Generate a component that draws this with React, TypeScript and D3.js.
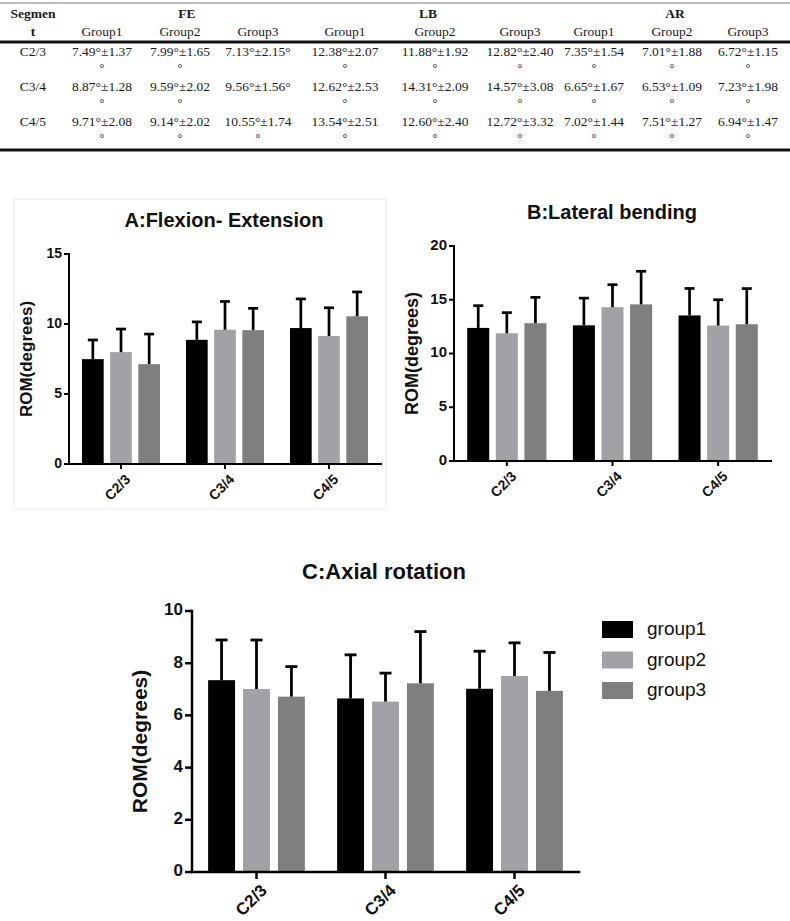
import * as d3 from "d3";
import React from "react";

const segments = ["C2/3", "C3/4", "C4/5"];
const groups = ["group1", "group2", "group3"];
const tableGroups = ["Group1", "Group2", "Group3"];
const motions = ["FE", "LB", "AR"];

// mean and SD per segment (rows) and group (columns)
const feMean = [
  [7.49, 7.99, 7.13],
  [8.87, 9.59, 9.56],
  [9.71, 9.14, 10.55],
];
const feSD = [
  [1.37, 1.65, 2.15],
  [1.28, 2.02, 1.56],
  [2.08, 2.02, 1.74],
];
const lbMean = [
  [12.38, 11.88, 12.82],
  [12.62, 14.31, 14.57],
  [13.54, 12.6, 12.72],
];
const lbSD = [
  [2.07, 1.92, 2.4],
  [2.53, 2.09, 3.08],
  [2.51, 2.4, 3.32],
];
const arMean = [
  [7.35, 7.01, 6.72],
  [6.65, 6.53, 7.23],
  [7.02, 7.51, 6.94],
];
const arSD = [
  [1.54, 1.88, 1.15],
  [1.67, 1.09, 1.98],
  [1.44, 1.27, 1.47],
];

const feTicks = [0, 5, 10, 15];
const lbTicks = [0, 5, 10, 15, 20];
const arTicks = [0, 2, 4, 6, 8, 10];

const groupColors = ["#000000", "#a2a2a6", "#7f7f7f"];

const SANS = "'Liberation Sans', Arial, sans-serif";
const SERIF = "'Liberation Serif', 'Times New Roman', serif";

const fmt = (m: number, s: number) => `${m.toFixed(2)}°±${s.toFixed(2)}°`;

// table layout
const segX = 33;
const motionX = [187, 428, 675];
const colX = [102, 180, 258, 345, 435, 520, 594, 672, 748];
const colChars = [10, 10, 11, 10, 10, 10, 10, 10, 10];
const rowY = [53, 88, 123];

const Table: React.FC = () => {
  const tables = [
    [feMean, feSD],
    [lbMean, lbSD],
    [arMean, arSD],
  ];
  const cells: React.ReactElement[] = [];
  segments.forEach((seg, r) => {
    cells.push(
      <text key={`s${r}`} x={segX} y={rowY[r]} textAnchor="middle">
        {seg}
      </text>
    );
    tables.forEach(([means, sds], t) => {
      groups.forEach((_, g) => {
        const c = t * 3 + g;
        const s = fmt(means[r][g], sds[r][g]);
        const wrap = s.length > colChars[c];
        cells.push(
          <text key={`v${r}-${c}`} x={colX[c]} y={rowY[r]} textAnchor="middle">
            {wrap ? s.slice(0, -1) : s}
          </text>
        );
        // the trailing degree sign wraps onto a second line in narrow cells
        if (wrap)
          cells.push(
            <text key={`d${r}-${c}`} x={colX[c]} y={rowY[r] + 16} textAnchor="middle" fontSize={12}>
              °
            </text>
          );
      });
    });
  });
  return (
    <g fontFamily={SERIF} fontSize={13.5} fill="#1a1a1a" dominantBaseline="middle">
      <line x1={0} x2={790} y1={3} y2={3} stroke="#777" strokeWidth={1} />
      <line x1={0} x2={790} y1={42} y2={42} stroke="#111" strokeWidth={3} />
      <line x1={0} x2={790} y1={150} y2={150} stroke="#111" strokeWidth={3} />
      <text x={segX} y={15} textAnchor="middle" fontWeight="bold">Segmen</text>
      <text x={segX} y={33} textAnchor="middle" fontWeight="bold">t</text>
      {motions.map((m, i) => (
        <text key={m} x={motionX[i]} y={15} textAnchor="middle" fontWeight="bold">
          {m}
        </text>
      ))}
      {colX.map((x, i) => (
        <text key={`h${i}`} x={x} y={33} textAnchor="middle">
          {tableGroups[i % 3]}
        </text>
      ))}
      {cells}
    </g>
  );
};

type PanelProps = {
  means: number[][];
  sds: number[][];
  ticks: number[];
  left: number;
  right: number;
  top: number;
  bottom: number;
  title: string;
  titleX: number;
  titleY: number;
  titleSize: number;
  labelX: number;
  labelSize: number;
  tickSize: number;
  catSize: number;
  axisW: number;
  errW: number;
  capW: number;
  tickLen: number;
};

const Panel: React.FC<PanelProps> = (p) => {
  const y = d3
    .scaleLinear()
    .domain([0, d3.max(p.ticks) as number])
    .range([p.bottom, p.top]);
  const x0 = d3
    .scaleBand()
    .domain(segments)
    .range([p.left, p.right])
    .paddingInner(0.25)
    .paddingOuter(0.125);
  const x1 = d3
    .scaleBand()
    .domain(groups)
    .range([0, x0.bandwidth()])
    .paddingInner(0.23);
  const catX = (s: string) => (x0(s) as number) + x0.bandwidth() / 2;

  return (
    <g fontFamily={SANS}>
      <text
        x={p.titleX}
        y={p.titleY}
        textAnchor="middle"
        dominantBaseline="middle"
        fontWeight="bold"
        fontSize={p.titleSize}
        fill="#111"
      >
        {p.title}
      </text>
      <text
        transform={`translate(${p.labelX},${(p.top + p.bottom) / 2}) rotate(-90)`}
        textAnchor="middle"
        dominantBaseline="middle"
        fontWeight="bold"
        fontSize={p.labelSize}
        fill="#111"
      >
        ROM(degrees)
      </text>
      {segments.map((seg, r) =>
        groups.map((g, i) => {
          const bx = (x0(seg) as number) + (x1(g) as number);
          const cx = bx + x1.bandwidth() / 2;
          const m = p.means[r][i];
          const e = m + p.sds[r][i];
          return (
            <g key={`${seg}-${g}`}>
              <rect
                x={bx}
                y={y(m)}
                width={x1.bandwidth()}
                height={p.bottom - y(m)}
                fill={groupColors[i]}
              />
              <line x1={cx} x2={cx} y1={y(m)} y2={y(e)} stroke="#000" strokeWidth={p.errW} />
              <line
                x1={cx - p.capW / 2}
                x2={cx + p.capW / 2}
                y1={y(e)}
                y2={y(e)}
                stroke="#000"
                strokeWidth={p.errW}
              />
            </g>
          );
        })
      )}
      <path
        d={`M${p.left},${p.top}V${p.bottom}H${p.right}`}
        fill="none"
        stroke="#000"
        strokeWidth={p.axisW}
        strokeLinecap="square"
      />
      {p.ticks.map((t) => (
        <g key={`t${t}`}>
          <line
            x1={p.left - p.tickLen}
            x2={p.left}
            y1={y(t)}
            y2={y(t)}
            stroke="#000"
            strokeWidth={p.axisW}
          />
          <text
            x={p.left - p.tickLen - 2}
            y={y(t)}
            textAnchor="end"
            dominantBaseline="middle"
            fontWeight="bold"
            fontSize={p.tickSize}
            fill="#111"
          >
            {t}
          </text>
        </g>
      ))}
      {segments.map((seg) => (
        <g key={`c${seg}`}>
          <line
            x1={catX(seg)}
            x2={catX(seg)}
            y1={p.bottom}
            y2={p.bottom + p.tickLen}
            stroke="#000"
            strokeWidth={p.axisW}
          />
          <text
            transform={`translate(${catX(seg) + 3},${p.bottom + p.tickLen + 4}) rotate(-45)`}
            textAnchor="end"
            dominantBaseline="hanging"
            fontWeight="bold"
            fontSize={p.catSize}
            fill="#111"
          >
            {seg}
          </text>
        </g>
      ))}
    </g>
  );
};

const Legend: React.FC = () => (
  <g fontFamily={SANS}>
    {groups.map((g, i) => (
      <g key={g}>
        <rect x={602} y={621 + i * 30.5} width={31} height={17} fill={groupColors[i]} />
        <text
          x={647}
          y={630 + i * 30.5}
          dominantBaseline="middle"
          fontSize={19}
          fill="#111"
        >
          {g}
        </text>
      </g>
    ))}
  </g>
);

const App: React.FC = () => (
  <div style={{ position: "absolute", left: 0, top: 0 }}>
    <svg width={790} height={921} style={{ display: "block", background: "#fff" }}>
      <Table />
      <rect x={14} y={199} width={372} height={310} fill="none" stroke="#ececec" strokeWidth={1} />
      <Panel
        means={feMean}
        sds={feSD}
        ticks={feTicks}
        left={69}
        right={381}
        top={254}
        bottom={464}
        title="A:Flexion- Extension"
        titleX={224}
        titleY={222}
        titleSize={20}
        labelX={28}
        labelSize={17}
        tickSize={14}
        catSize={14}
        axisW={2}
        errW={2.7}
        capW={10}
        tickLen={5}
      />
      <Panel
        means={lbMean}
        sds={lbSD}
        ticks={lbTicks}
        left={454}
        right={771}
        top={246}
        bottom={461}
        title="B:Lateral bending"
        titleX={612}
        titleY={214}
        titleSize={20}
        labelX={413}
        labelSize={18}
        tickSize={15}
        catSize={14}
        axisW={2}
        errW={2.7}
        capW={10}
        tickLen={5}
      />
      <Panel
        means={arMean}
        sds={arSD}
        ticks={arTicks}
        left={192}
        right={579}
        top={611}
        bottom={872}
        title="C:Axial rotation"
        titleX={384}
        titleY={573}
        titleSize={22}
        labelX={141}
        labelSize={21}
        tickSize={17}
        catSize={17}
        axisW={2.5}
        errW={2.8}
        capW={12}
        tickLen={7}
      />
      <Legend />
    </svg>
  </div>
);

export default App;
